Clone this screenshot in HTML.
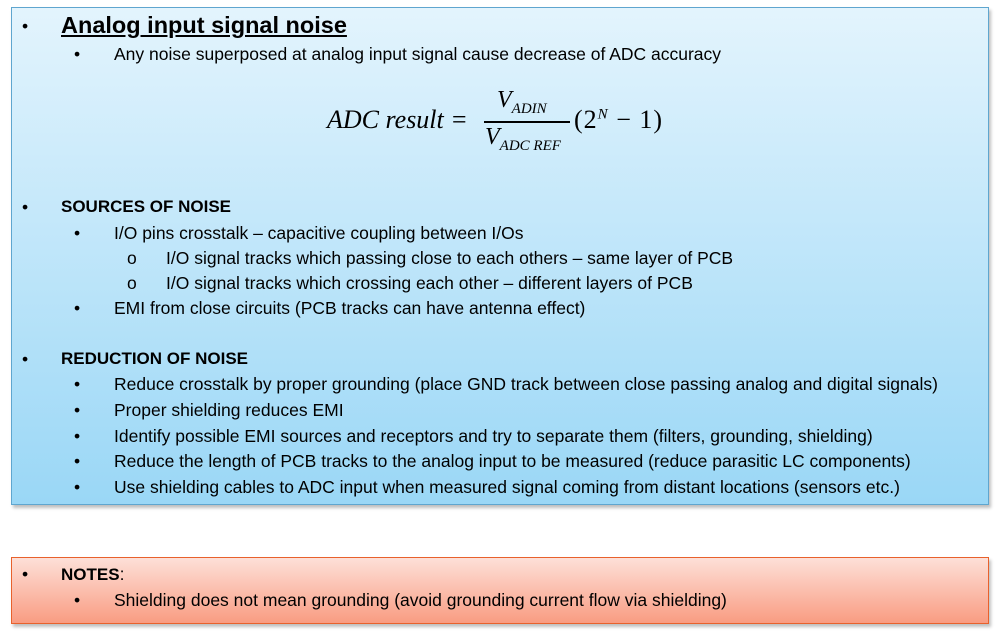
<!DOCTYPE html>
<html><head><style>
body{margin:0;width:999px;height:637px;background:#fff;font-family:"Liberation Sans",sans-serif;color:#000;position:relative;overflow:hidden}
.box{position:absolute;left:11px;width:976px;box-shadow:2px 3px 3px rgba(0,0,0,.25)}
#b1{top:7px;height:496px;border:1px solid #5fa6cf;background:linear-gradient(#e3f4fd,#9ad7f6)}
#b2{top:557px;height:65px;border:1px solid #e8612c;background:linear-gradient(#fde0d8,#f99c82)}
.t{position:absolute;font-size:17.5px;white-space:nowrap;line-height:20px;margin-top:0}
.b{font-weight:bold;font-size:17px}
.m{font-family:"Liberation Serif",serif;font-style:italic;position:absolute;font-size:26px;white-space:nowrap}
</style></head><body>
<div class="box" id="b1"></div>
<div class="box" id="b2"></div>
<div class="t" style="left:22px;top:16px">•</div>
<div class="t b" style="left:61px;top:12px;font-size:23.5px;line-height:26px;text-decoration:underline">Analog input signal noise</div>
<div class="t" style="left:74px;top:44px">•</div>
<div class="t" style="left:114px;top:44px">Any noise superposed at analog input signal cause decrease of ADC accuracy</div>
<div class="m" style="left:327px;top:105px">ADC result =</div>
<div class="m" style="left:497px;top:87px;font-size:24px">V<sub style="font-size:15px">ADIN</sub></div>
<div style="position:absolute;left:484px;top:121px;width:86px;height:1.5px;background:#000"></div>
<div class="m" style="left:485px;top:124px;font-size:24px">V<sub style="font-size:15px">ADC REF</sub></div>
<div class="m" style="left:574px;top:105px;font-style:normal;letter-spacing:1px">(2<sup style="font-size:15px;font-style:italic">N</sup> − 1)</div>
<div class="t" style="left:22px;top:197px">•</div>
<div class="t b" style="left:61px;top:197px">SOURCES OF NOISE</div>
<div class="t" style="left:74px;top:223px">•</div>
<div class="t" style="left:114px;top:223px">I/O pins crosstalk – capacitive coupling between I/Os</div>
<div class="t" style="left:127px;top:248px">o</div>
<div class="t" style="left:166px;top:248px">I/O signal tracks which passing close to each others – same layer of PCB</div>
<div class="t" style="left:127px;top:273px">o</div>
<div class="t" style="left:166px;top:273px">I/O signal tracks which crossing each other – different layers of PCB</div>
<div class="t" style="left:74px;top:298px">•</div>
<div class="t" style="left:114px;top:298px">EMI from close circuits (PCB tracks can have antenna effect)</div>
<div class="t" style="left:22px;top:349px">•</div>
<div class="t b" style="left:61px;top:349px">REDUCTION OF NOISE</div>
<div class="t" style="left:74px;top:374px">•</div>
<div class="t" style="left:114px;top:374px">Reduce crosstalk by proper grounding (place GND track between close passing analog and digital signals)</div>
<div class="t" style="left:74px;top:400px">•</div>
<div class="t" style="left:114px;top:400px">Proper shielding reduces EMI</div>
<div class="t" style="left:74px;top:426px">•</div>
<div class="t" style="left:114px;top:426px">Identify possible EMI sources and receptors and try to separate them (filters, grounding, shielding)</div>
<div class="t" style="left:74px;top:451px">•</div>
<div class="t" style="left:114px;top:451px">Reduce the length of PCB tracks to the analog input to be measured (reduce parasitic LC components)</div>
<div class="t" style="left:74px;top:477px">•</div>
<div class="t" style="left:114px;top:477px">Use shielding cables to ADC input when measured signal coming from distant locations (sensors etc.)</div>
<div class="t" style="left:22px;top:564px">•</div>
<div class="t" style="left:61px;top:564px"><b style="font-size:17px">NOTES</b>:</div>
<div class="t" style="left:74px;top:590px">•</div>
<div class="t" style="left:114px;top:590px">Shielding does not mean grounding (avoid grounding current flow via shielding)</div>
</body></html>
